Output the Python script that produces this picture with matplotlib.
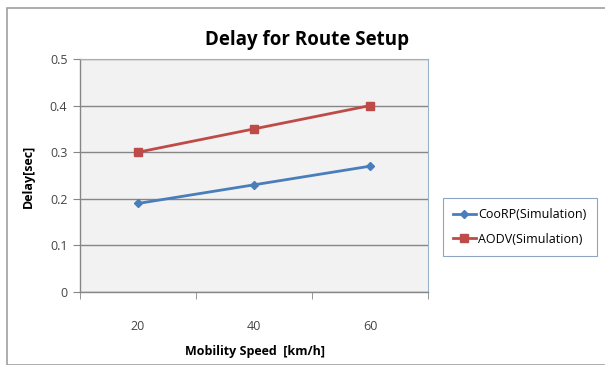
import numpy as np
import matplotlib.pyplot as plt
from matplotlib.patches import Rectangle

categories = ["20", "40", "60"]
coorp = [0.19, 0.23, 0.27]
aodv = [0.30, 0.35, 0.40]
y_ticks = [0, 0.1, 0.2, 0.3, 0.4, 0.5]
y_labels = ["0", "0.1", "0.2", "0.3", "0.4", "0.5"]

plt.rcParams['font.family'] = ['Open Sans', 'DejaVu Sans']

fig = plt.figure(figsize=(6.05, 3.65), dpi=100)
fig.patch.set_facecolor("white")

# outer chart frame
fig.patches.append(Rectangle((7 / 605, 0), 1.2, 1 - 8 / 365, transform=fig.transFigure,
                             fill=False, edgecolor="#A0A0A0", linewidth=1.2))

ax = fig.add_axes([80 / 605, 1 - 292 / 365, 348 / 605, 233 / 365])
ax.set_facecolor("#F2F2F2")

x = np.arange(len(categories))
ax.plot(x, coorp, color="#4A7EBB", linewidth=2, marker="D", markersize=4, label="CooRP(Simulation)")
ax.plot(x, aodv, color="#BE4B48", linewidth=2, marker="s", markersize=5.5, label="AODV(Simulation)")

ax.set_xlim(-0.5, 2.5)
ax.set_ylim(0, 0.5)
ax.set_yticks(y_ticks)
ax.set_yticklabels(y_labels, fontsize=9, color="#444444")
ax.set_xticks(x)
ax.set_xticklabels(categories, fontsize=9, color="#444444")
ax.set_xticks([-0.5, 0.5, 1.5, 2.5], minor=True)
ax.tick_params(axis="x", which="major", length=0, pad=20)
ax.tick_params(axis="x", which="minor", length=5, direction="out", color="#868686")
ax.tick_params(axis="y", length=5, direction="out", color="#868686", pad=4)
ax.grid(axis="y", color="#868686", linewidth=1)
ax.set_axisbelow(True)
for side in ["top", "right"]:
    ax.spines[side].set_color("#9BB0CB")
    ax.spines[side].set_linewidth(0.8)
for side in ["left", "bottom"]:
    ax.spines[side].set_color("#868686")
    ax.spines[side].set_linewidth(1)

fig.text(307 / 605, 1 - 40 / 365, "Delay for Route Setup", ha="center", va="center",
         fontsize=13.5, fontweight="bold")
fig.text(255 / 605, 1 - 352 / 365, "Mobility Speed  [km/h]", ha="center", va="center",
         fontsize=9, fontweight="bold")
fig.text(28 / 605, 1 - 176 / 365, "Delay[sec]", ha="center", va="center",
         rotation=90, fontsize=9, fontweight="bold")

leg = fig.legend(loc="center left", bbox_to_anchor=(437 / 605, 1 - 227 / 365),
                 fontsize=9, frameon=True, fancybox=False, handlelength=1.8,
                 handletextpad=0.2, labelspacing=0.9, borderpad=0.8)
leg.get_frame().set_edgecolor("#6F8FB5")
leg.get_frame().set_linewidth(0.8)

fig.savefig("out.png", dpi=100)
